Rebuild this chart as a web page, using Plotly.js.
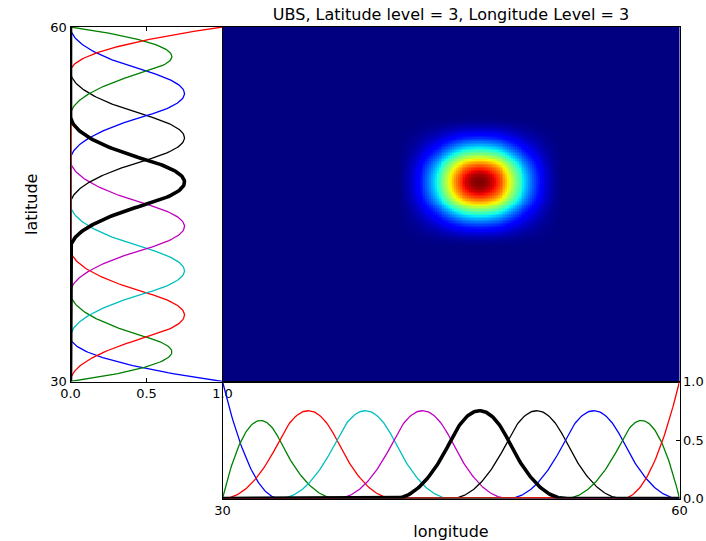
<!DOCTYPE html>
<html><head><meta charset="utf-8">
<script src="https://cdn.plot.ly/plotly-3.0.1.min.js"></script>
<style>html,body{margin:0;padding:0;background:#fff}#chart{width:706px;height:541px}</style>
</head><body><div id="chart"></div>
<script>
// ---- chart definition ----
const titleText = "UBS, Latitude level = 3, Longitude Level = 3";
const latLevel = 3;
const lonLevel = 3;
const splineDegree = 2;
const latRange = [30, 60];
const lonRange = [30, 60];
const latHighlight = 5;   // basis index drawn thick / used for the surface
const lonHighlight = 5;
const colorCycle = ["#0000FF", "#008000", "#FF0000", "#00BFBF", "#BF00BF", "#BFBF00", "#000000"];
const basisTickVals = [0, 0.5, 1];
const latTickVals = [30, 60];
const lonTickVals = [30, 60];
const samplesPerCurve = 401;
const heatSamples = 241;

// matplotlib 'jet'
const jetScale = [
  [0, "rgb(0,0,128)"], [0.11, "rgb(0,0,255)"], [0.125, "rgb(0,0,255)"],
  [0.34, "rgb(0,219,255)"], [0.35, "rgb(0,230,247)"], [0.375, "rgb(21,255,226)"],
  [0.64, "rgb(238,255,8)"], [0.65, "rgb(247,245,0)"], [0.66, "rgb(255,236,0)"],
  [0.89, "rgb(255,19,0)"], [0.91, "rgb(232,0,0)"], [1, "rgb(128,0,0)"]
];

// ---- uniform clamped B-spline basis (Cox-de Boor) ----
function makeKnots(level, a, b, p) {
  const n = Math.pow(2, level), k = [];
  for (let i = 0; i < p; i++) k.push(a);
  for (let i = 0; i <= n; i++) k.push(a + i * (b - a) / n);
  for (let i = 0; i < p; i++) k.push(b);
  return k;
}
function basisAll(x, knots, p) {
  const m = knots.length - 1;
  let N = [];
  for (let i = 0; i < m; i++) {
    N.push((x >= knots[i] && x < knots[i + 1]) ? 1 : 0);
  }
  if (x >= knots[m]) { // right endpoint
    for (let i = m - 1; i >= 0; i--) { if (knots[i] < knots[i + 1]) { N[i] = 1; break; } }
  }
  for (let d = 1; d <= p; d++) {
    const M = [];
    for (let i = 0; i < m - d; i++) {
      let a = 0, b = 0;
      const d1 = knots[i + d] - knots[i], d2 = knots[i + d + 1] - knots[i + 1];
      if (d1 > 0) a = (x - knots[i]) / d1 * N[i];
      if (d2 > 0) b = (knots[i + d + 1] - x) / d2 * N[i + 1];
      M.push(a + b);
    }
    N = M;
  }
  return N;
}
function linspace(a, b, n) { const r = []; for (let i = 0; i < n; i++) r.push(a + (b - a) * i / (n - 1)); return r; }

const latKnots = makeKnots(latLevel, latRange[0], latRange[1], splineDegree);
const lonKnots = makeKnots(lonLevel, lonRange[0], lonRange[1], splineDegree);
const latPts = linspace(latRange[0], latRange[1], samplesPerCurve);
const lonPts = linspace(lonRange[0], lonRange[1], samplesPerCurve);
const latBasis = latPts.map(v => basisAll(v, latKnots, splineDegree));
const lonBasis = lonPts.map(v => basisAll(v, lonKnots, splineDegree));
const nLat = latBasis[0].length, nLon = lonBasis[0].length;

const traces = [];
// left panel: latitude basis (value on x, latitude on y)
const latOrder = [];
for (let i = 0; i < nLat; i++) if (i !== latHighlight) latOrder.push(i);
latOrder.push(latHighlight);
latOrder.forEach(i => {
  traces.push({
    type: "scatter", mode: "lines", xaxis: "x", yaxis: "y",
    x: latBasis.map(r => r[i]), y: latPts, hoverinfo: "skip", showlegend: false,
    line: { color: i === latHighlight ? "#000000" : colorCycle[i % colorCycle.length], width: i === latHighlight ? 3.6 : 1.3 }
  });
});
// bottom panel: longitude basis
const lonOrder = [];
for (let i = 0; i < nLon; i++) if (i !== lonHighlight) lonOrder.push(i);
lonOrder.push(lonHighlight);
lonOrder.forEach(i => {
  traces.push({
    type: "scatter", mode: "lines", xaxis: "x3", yaxis: "y3",
    x: lonPts, y: lonBasis.map(r => r[i]), hoverinfo: "skip", showlegend: false,
    line: { color: i === lonHighlight ? "#000000" : colorCycle[i % colorCycle.length], width: i === lonHighlight ? 3.6 : 1.3 }
  });
});
// surface
const hLat = linspace(latRange[0], latRange[1], heatSamples);
const hLon = linspace(lonRange[0], lonRange[1], heatSamples);
const bLat = hLat.map(v => basisAll(v, latKnots, splineDegree)[latHighlight]);
const bLon = hLon.map(v => basisAll(v, lonKnots, splineDegree)[lonHighlight]);
const z = bLat.map(a => bLon.map(b => a * b));
traces.push({
  type: "heatmap", xaxis: "x2", yaxis: "y2", x: hLon, y: hLat, z: z,
  colorscale: jetScale, showscale: false, zmin: 0, zsmooth: false, hoverinfo: "skip"
});

const W = 706, H = 541;
const px = v => v / W, py = v => 1 - v / H;
const L0 = 70.5, L1 = 222.5, R1 = 679.5, T0 = 27, M1 = 381.5, B1 = 498.5;
const fnt = { family: "DejaVu Sans", size: 13, color: "#000" };
const labFnt = { family: "DejaVu Sans", size: 16, color: "#000" };
const common = {
  showline: true, linecolor: "#000", linewidth: 1, mirror: "ticks",
  ticks: "inside", ticklen: 4, tickcolor: "#000", tickwidth: 1,
  showgrid: false, zeroline: false, tickfont: fnt, fixedrange: true
};
const layout = {
  width: W, height: H, margin: { l: 0, r: 0, t: 0, b: 0 },
  paper_bgcolor: "#fff", plot_bgcolor: "#fff", font: fnt, showlegend: false,
  title: { text: titleText, font: labFnt,
           x: px(451), xref: "paper", xanchor: "center", y: 1 - 14 / H, yref: "container", yanchor: "middle" },
  xaxis: Object.assign({}, common, { domain: [px(L0), px(L1)], anchor: "y", range: [0, 1],
           tickvals: basisTickVals, tickformat: ".1f" }),
  yaxis: Object.assign({}, common, { domain: [py(M1), py(T0)], anchor: "x", range: latRange,
           tickvals: latTickVals, title: { text: "latitude", font: labFnt, standoff: 8 } }),
  xaxis2: Object.assign({}, common, { domain: [px(L1), px(R1)], anchor: "y2", range: lonRange,
           showticklabels: false, ticks: "", mirror: true }),
  yaxis2: Object.assign({}, common, { domain: [py(M1), py(T0)], anchor: "x2", range: latRange,
           showticklabels: false, ticks: "", mirror: true }),
  xaxis3: Object.assign({}, common, { domain: [px(L1), px(R1)], anchor: "y3", range: lonRange,
           tickvals: lonTickVals, title: { text: "longitude", font: labFnt, standoff: 8 } }),
  yaxis3: Object.assign({}, common, { domain: [py(B1), py(M1)], anchor: "x3", range: [0, 1],
           side: "right", mirror: true, tickvals: basisTickVals, tickformat: ".1f" })
};
Plotly.newPlot("chart", traces, layout, { staticPlot: true, displayModeBar: false });
</script>
</body></html>
